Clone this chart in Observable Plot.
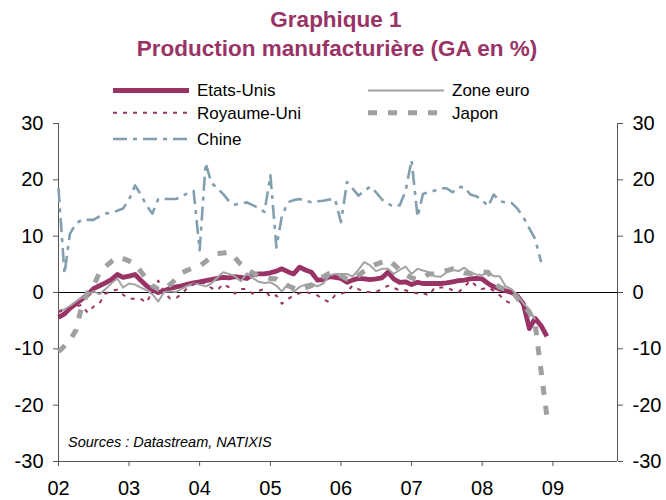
<!DOCTYPE html>
<html><head><meta charset="utf-8">
<script src="https://cdn.jsdelivr.net/npm/d3@7"></script>
<script src="https://cdn.jsdelivr.net/npm/@observablehq/plot@0.6"></script>
<style>
body{margin:0;background:#fff;font-family:"Liberation Sans",Arial,sans-serif;}
#wrap{position:relative;width:666px;height:500px;overflow:hidden;}
#wrap svg{position:absolute;left:0;top:0;}
</style>
</head><body>
<div id="wrap"></div>
<script>
// ---- data (monthly, year-on-year %, starting Jan 2002) ----
const startMonth = "2002-01-01";
const etatsUnis = [-4.4,-3.8,-2.8,-2.0,-1.2,-0.4,0.7,1.2,1.7,2.3,3.2,2.7,
  2.9,3.2,2.2,1.2,0.5,0.0,0.3,0.7,1.0,1.2,1.5,1.7,
  1.9,2.1,2.3,2.5,2.7,2.6,2.8,2.7,2.5,3.2,3.3,3.3,
  3.5,3.8,4.2,3.7,3.3,4.5,4.0,3.6,2.2,2.3,2.8,2.7,
  2.5,1.8,2.2,2.5,2.4,2.3,2.4,2.6,3.6,2.4,1.8,1.9,
  1.4,1.8,1.6,1.6,1.6,1.6,1.7,1.9,2.1,2.2,2.4,2.5,
  2.4,1.6,1.0,0.6,0.3,0.0,-0.6,-2.0,-6.4,-4.6,-5.9,-7.8];
const zoneEuro = [-3.2,-3.0,-2.4,-1.6,-0.9,-0.4,0.2,-0.3,0.6,1.6,2.5,0.9,
  1.6,1.4,0.9,0.4,-0.3,-1.6,0.1,0.2,0.1,0.7,1.2,1.6,
  1.4,1.1,1.6,2.6,3.6,3.3,2.9,2.0,3.4,2.6,1.9,1.7,
  1.8,1.2,0.2,1.5,0.1,1.0,1.4,1.6,1.1,1.6,3.0,3.3,
  3.3,3.3,2.8,4.0,5.4,4.8,3.8,4.2,4.2,3.3,4.0,4.6,
  3.3,4.2,3.9,3.6,2.9,2.8,3.6,4.0,3.8,4.4,3.6,3.2,
  3.1,3.6,2.9,2.9,1.1,0.6,-0.5,-1.9,-3.0,-4.8];
const royaumeUni = [-3.5,-3.0,-2.8,-2.5,-2.2,-3.6,-2.5,-1.9,-0.2,0.3,0.5,-0.4,
  -1.1,-1.1,-1.1,-1.8,0.1,2.1,0.1,-1.1,-1.0,-0.2,0.9,1.5,
  1.8,1.6,0.8,0.4,1.5,0.9,-0.2,0.6,0.6,-0.2,0.3,0.6,
  -0.8,-0.5,-2.0,-1.2,-0.5,-0.1,0.1,-0.2,-0.5,-1.2,-1.7,-0.5,
  -0.2,0.1,1.2,0.6,0.1,0.1,0.1,0.6,1.2,0.8,0.4,0.4,
  0.1,-0.2,-0.1,-0.5,0.9,0.9,0.9,0.4,0.1,1.0,2.1,1.2,
  0.6,0.9,0.3,-0.5,-1.5,-2.0];
const japon = [-10.5,-9.5,-8.5,-6.7,-2.5,0.0,1.2,3.5,4.6,5.5,6.3,6.0,
  5.6,5.0,3.8,2.4,1.2,0.6,0.4,1.4,2.4,3.5,4.0,4.4,
  4.7,5.5,6.3,6.9,7.0,7.2,6.2,5.0,4.2,3.5,2.9,2.7,
  2.5,2.4,1.8,1.2,0.8,0.4,0.8,1.2,2.2,2.8,3.4,3.6,
  3.0,2.4,2.2,3.0,3.8,4.5,5.0,5.4,5.8,5.0,4.0,3.2,
  2.6,2.3,2.6,3.3,3.3,3.6,3.9,4.2,3.9,3.5,3.3,3.4,
  3.6,3.6,1.8,0.9,0.6,0.4,-1.0,-2.3,-3.5,-5.6,-14.0,-22.0];
const chine = [18.5,3.3,10.4,12.2,12.9,12.9,12.9,13.5,14.0,14.2,14.5,14.9,
  16.5,19.0,17.5,15.5,14.0,16.6,16.6,16.6,16.6,17.0,17.7,18.0,
  7.5,23.0,19.5,18.5,17.5,16.2,15.6,15.8,16.0,15.5,15.0,14.3,
  20.8,8.0,13.5,16.0,16.4,16.6,16.3,16.0,16.2,16.3,16.5,16.6,
  12.5,19.6,18.5,17.2,18.0,18.8,17.8,16.5,15.8,15.2,15.5,18.0,
  23.5,13.4,17.5,17.8,18.1,18.5,18.5,17.8,18.7,18.7,17.4,17.1,
  16.4,15.3,17.4,16.2,16.0,15.9,14.9,13.4,11.4,9.5,5.4];
const seriesNames = ["Etats-Unis","Zone euro","Royaume-Uni","Japon","Chine"];
const yTicks = [-30,-20,-10,0,10,20,30];
const yearLabels = ["02","03","04","05","06","07","08","09"];
const xDomain = ["2002-01-01","2009-12-01"];
const titleLines = ["Graphique 1","Production manufacturière (GA en %)"];
const sourceText = "Sources : Datastream, NATIXIS";

// ---- build ----
const start = new Date(startMonth);
const toRows = arr => arr.map((v,i)=>({date:d3.utcMonth.offset(start,i), value:v}));
const styles = {
  "Etats-Unis": {stroke:"#993366", strokeWidth:4.8},
  "Zone euro": {stroke:"#a3a3a3", strokeWidth:2},
  "Royaume-Uni": {stroke:"#993366", strokeWidth:2, strokeDasharray:"4,6"},
  "Japon": {stroke:"#a0a0a0", strokeWidth:5, strokeDasharray:"9,11"},
  "Chine": {stroke:"#829fb0", strokeWidth:2.6, strokeDasharray:"14,6,4,6"}
};
const dataMap = {"Etats-Unis":etatsUnis,"Zone euro":zoneEuro,"Royaume-Uni":royaumeUni,"Japon":japon,"Chine":chine};
const xd = xDomain.map(s=>new Date(s));
const yearTicks = yearLabels.map(l=>new Date(Date.UTC(2000+ +l,0,1)));

const lineMarks = seriesNames.map(n => Plot.line(toRows(dataMap[n]), {x:"date", y:"value", ...styles[n], strokeLinejoin:"round", strokeLinecap:"butt"}));

const chart = Plot.plot({
  width:666, height:500,
  marginLeft:58, marginRight:49, marginTop:123, marginBottom:39,
  style:{fontFamily:"'Liberation Sans', Arial, sans-serif", background:"transparent", color:"#000"},
  x:{type:"utc", domain:xd},
  y:{domain:[yTicks[0], yTicks[yTicks.length-1]]},
  marks:[
    Plot.ruleY([0], {stroke:"#000", strokeWidth:1}),
    Plot.ruleX(xd, {stroke:"#555", strokeWidth:1}),
    Plot.ruleY([yTicks[0]], {stroke:"#555", strokeWidth:1}),
    Plot.axisY({anchor:"left", ticks:yTicks, tickSize:5, tickPadding:10, fontSize:20, tickFormat:d=>String(d), label:null, stroke:"#555"}),
    Plot.axisY({anchor:"right", ticks:yTicks, tickSize:5, tickPadding:10, fontSize:20, tickFormat:d=>String(d), label:null, stroke:"#555"}),
    Plot.axisX({ticks:yearTicks, tickFormat:d=>String(d.getUTCFullYear()).slice(2), tickSize:5, tickPadding:14, fontSize:20, label:null, stroke:"#555"}),
    ...lineMarks
  ]
});
const wrap = document.getElementById("wrap");
wrap.appendChild(chart);

// ---- overlay: title, legend, source ----
const ov = d3.select(wrap).append("svg").attr("width",666).attr("height",500)
  .style("font-family","'Liberation Sans', Arial, sans-serif").style("pointer-events","none");
ov.append("text").attr("x",336).attr("y",27).attr("text-anchor","middle")
  .attr("font-size",22.5).attr("font-weight","bold").attr("fill","#993366").text(titleLines[0]);
ov.append("text").attr("x",337).attr("y",56).attr("text-anchor","middle")
  .attr("font-size",22.5).attr("font-weight","bold").attr("fill","#993366").text(titleLines[1]);
const legPos = {
  "Etats-Unis":[113,90.5], "Zone euro":[368,90.5],
  "Royaume-Uni":[113,112.7], "Japon":[368,112.7],
  "Chine":[113,139]
};
for (const n of seriesNames) {
  const [lx,ly] = legPos[n];
  const s = styles[n];
  ov.append("line").attr("x1",lx).attr("x2",lx+76).attr("y1",ly).attr("y2",ly)
    .attr("stroke",s.stroke).attr("stroke-width",s.strokeWidth)
    .attr("stroke-dasharray",s.strokeDasharray||null);
  ov.append("text").attr("x",lx+84).attr("y",ly).attr("dy","0.35em")
    .attr("font-size",17).attr("fill","#000").text(n);
}
ov.append("text").attr("x",68).attr("y",447).attr("font-size",14.5)
  .attr("font-style","italic").attr("fill","#000").text(sourceText);
</script>
</body></html>
